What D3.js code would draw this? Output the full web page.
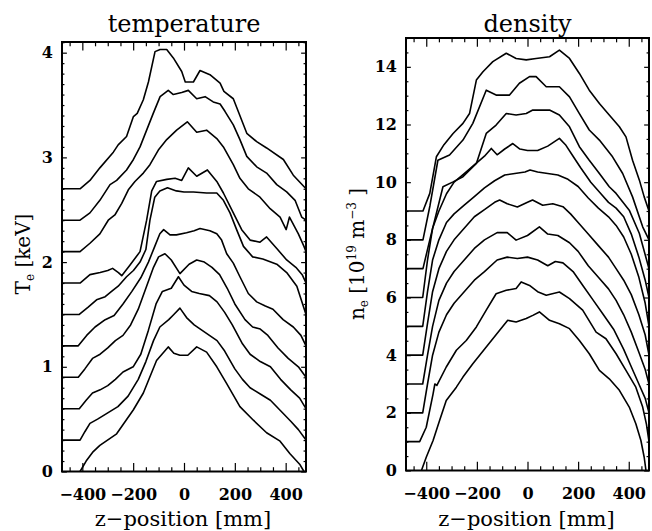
<!DOCTYPE html>
<html>
<head>
<meta charset="utf-8">
<script src="https://cdn.jsdelivr.net/npm/d3@7"></script>
<style>
  body { margin: 0; background: #fff; }
  svg text { font-family: "DejaVu Serif", serif; fill: #000; }
</style>
</head>
<body>
<div id="chart"></div>
<script>
// ---- data ----
const zTicks = [-400, -200, 0, 200, 400];
const tempTicks = [0, 1, 2, 3, 4];
const densTicks = [0, 2, 4, 6, 8, 10, 12, 14];

// temperature profiles [z mm, Te keV], each shifted by 0.3 keV
const temp1 = [[-478,2.7],[-409,2.7],[-370,2.78],[-331,2.9],[-278,3.05],[-259,3.12],[-226,3.2],[-199,3.39],[-184,3.42],[-160,3.55],[-140,3.72],[-114,4.01],[-94,4.03],[-68,4.03],[-42,3.95],[-9,3.82],[5,3.72],[37,3.72],[63,3.83],[102,3.79],[142,3.71],[157,3.63],[194,3.56],[247,3.23],[286,3.15],[325,3.09],[391,2.98],[430,2.83],[480,2.7]];
const temp2 = [[-478,2.4],[-409,2.4],[-370,2.47],[-331,2.59],[-291,2.74],[-265,2.78],[-226,2.88],[-199,2.98],[-173,3.1],[-147,3.26],[-121,3.42],[-94,3.58],[-62,3.64],[-42,3.6],[-9,3.62],[17,3.64],[50,3.56],[83,3.58],[115,3.53],[142,3.51],[161,3.44],[194,3.31],[220,3.17],[247,3.01],[286,2.91],[325,2.85],[365,2.74],[404,2.67],[437,2.59],[463,2.43],[480,2.4]];
const temp3 = [[-478,2.1],[-409,2.1],[-370,2.18],[-331,2.27],[-298,2.4],[-272,2.45],[-245,2.56],[-219,2.69],[-193,2.77],[-160,2.85],[-134,2.93],[-101,3.07],[-68,3.17],[-29,3.26],[13,3.34],[50,3.24],[89,3.26],[129,3.18],[155,3.1],[194,2.93],[220,2.8],[253,2.7],[299,2.62],[339,2.51],[378,2.43],[402,2.31],[415,2.43],[450,2.27],[472,2.15],[480,2.1]];
const temp4 = [[-478,1.8],[-409,1.8],[-370,1.88],[-330,1.9],[-300,1.92],[-281,1.94],[-258,1.9],[-245,1.87],[-213,1.97],[-173,2.1],[-147,2.4],[-127,2.68],[-108,2.77],[-68,2.79],[-35,2.8],[-9,2.78],[17,2.9],[50,2.82],[92,2.88],[129,2.77],[155,2.66],[194,2.47],[227,2.31],[260,2.21],[299,2.19],[325,2.24],[365,2.13],[404,2.02],[440,1.95],[465,1.88],[480,1.8]];
const temp5 = [[-478,1.5],[-412,1.5],[-377,1.57],[-344,1.64],[-310,1.67],[-285,1.72],[-259,1.77],[-226,1.86],[-199,1.92],[-173,2.0],[-150,2.12],[-134,2.4],[-115,2.62],[-95,2.68],[-65,2.71],[-30,2.68],[0,2.67],[37,2.67],[89,2.66],[129,2.66],[155,2.59],[181,2.47],[207,2.31],[234,2.15],[270,2.05],[310,2.03],[365,1.98],[404,1.9],[444,1.77],[480,1.5]];
const temp6 = [[-478,1.2],[-416,1.2],[-383,1.3],[-350,1.38],[-310,1.45],[-275,1.49],[-240,1.6],[-205,1.72],[-170,1.85],[-140,2.0],[-115,2.15],[-95,2.27],[-80,2.31],[-55,2.26],[-30,2.26],[10,2.28],[40,2.3],[63,2.32],[102,2.3],[129,2.27],[148,2.21],[168,2.08],[194,1.99],[220,1.86],[253,1.7],[286,1.62],[320,1.58],[350,1.55],[390,1.45],[430,1.38],[460,1.3],[480,1.2]];
const temp7 = [[-478,0.9],[-416,0.9],[-390,0.98],[-360,1.08],[-330,1.12],[-300,1.18],[-270,1.25],[-240,1.3],[-210,1.4],[-180,1.55],[-150,1.75],[-120,1.95],[-100,2.05],[-75,2.08],[-50,2.02],[-16,1.89],[20,1.98],[50,2.02],[80,2.0],[110,1.95],[140,1.88],[170,1.75],[200,1.6],[240,1.45],[270,1.38],[300,1.36],[330,1.3],[370,1.18],[410,1.08],[450,1.0],[480,0.9]];
const temp8 = [[-478,0.6],[-412,0.6],[-385,0.68],[-360,0.75],[-330,0.78],[-300,0.82],[-270,0.88],[-240,0.95],[-200,1.0],[-170,1.12],[-140,1.35],[-110,1.6],[-85,1.72],[-50,1.75],[-22,1.86],[0,1.78],[30,1.72],[60,1.7],[100,1.68],[130,1.62],[160,1.52],[190,1.4],[230,1.22],[260,1.12],[300,1.05],[340,1.0],[380,0.88],[420,0.78],[455,0.7],[480,0.6]];
const temp9 = [[-478,0.3],[-409,0.3],[-390,0.38],[-370,0.46],[-340,0.5],[-300,0.56],[-260,0.62],[-220,0.72],[-180,0.88],[-150,1.05],[-120,1.25],[-95,1.38],[-60,1.45],[-40,1.5],[-16,1.56],[10,1.47],[40,1.4],[70,1.35],[100,1.3],[130,1.25],[160,1.15],[200,0.98],[230,0.88],[260,0.8],[300,0.74],[340,0.68],[380,0.58],[420,0.48],[450,0.4],[480,0.3]];
const temp10 = [[-409,0.0],[-385,0.1],[-357,0.19],[-331,0.25],[-265,0.36],[-199,0.59],[-160,0.75],[-108,1.06],[-62,1.19],[-40,1.13],[-16,1.11],[15,1.11],[50,1.19],[89,1.14],[129,1.0],[168,0.84],[220,0.62],[273,0.49],[325,0.37],[378,0.29],[417,0.17],[455,0.07],[472,0.0]];

// density profiles [z mm, ne 1e19 m^-3], each shifted by 1
const dens1 = [[-480,9],[-413,9],[-386,9.61],[-360,10.88],[-330,11.3],[-294,11.69],[-255,12.04],[-229,12.38],[-202,13.54],[-176,13.83],[-137,14.18],[-84,14.47],[-45,14.29],[-5,14.24],[34,14.29],[87,14.35],[126,14.58],[166,14.29],[205,13.77],[244,13.19],[284,12.73],[323,12.33],[363,11.92],[389,11.57],[415,10.76],[442,10.07],[461,9.49],[480,9.0]];
const dens2 = [[-480,8],[-413,8],[-385,9.2],[-354,10.76],[-308,10.94],[-255,11.46],[-216,12.04],[-163,13.19],[-124,13.02],[-71,13.02],[-32,13.43],[8,13.66],[34,13.66],[74,13.31],[126,13.31],[166,12.96],[205,12.38],[244,11.81],[284,11.46],[336,10.88],[376,10.3],[415,9.49],[455,8.45],[480,8.0]];
const dens3 = [[-480,7],[-413,7],[-386,8.0],[-334,9.84],[-294,10.01],[-255,10.19],[-202,10.65],[-163,11.69],[-124,11.98],[-84,12.38],[-45,12.33],[-5,12.38],[21,12.5],[87,12.5],[126,12.33],[166,11.92],[205,11.23],[244,10.76],[284,10.3],[323,9.84],[350,9.61],[402,9.03],[442,8.22],[480,7.0]];
const dens4 = [[-480,6],[-414,6],[-395,7.3],[-375,8.4],[-350,9.0],[-320,9.6],[-290,10.0],[-250,10.3],[-210,10.6],[-170,10.9],[-143,11.17],[-120,10.95],[-90,11.15],[-58,11.34],[-30,11.15],[0,11.1],[40,11.1],[80,11.25],[126,11.52],[150,11.3],[180,10.9],[210,10.5],[250,10.0],[290,9.6],[320,9.3],[350,9.1],[380,8.8],[410,8.2],[440,7.4],[465,6.6],[480,6.0]];
const dens5 = [[-480,5],[-414,5],[-395,6.2],[-375,7.3],[-350,8.0],[-320,8.6],[-290,8.9],[-250,9.2],[-210,9.5],[-170,9.8],[-130,10.05],[-90,10.25],[-50,10.3],[-10,10.35],[10,10.42],[40,10.35],[80,10.3],[120,10.25],[160,10.1],[200,9.85],[240,9.45],[280,9.1],[320,8.8],[350,8.5],[380,8.1],[410,7.5],[440,6.7],[465,5.8],[480,5.0]];
const dens6 = [[-480,4],[-414,4],[-395,5.1],[-375,6.2],[-350,7.0],[-320,7.6],[-290,8.0],[-250,8.4],[-210,8.8],[-170,9.05],[-130,9.3],[-110,9.38],[-80,9.25],[-40,9.14],[0,9.3],[20,9.38],[60,9.2],[100,9.25],[140,9.15],[170,8.9],[200,8.6],[240,8.2],[280,7.8],[320,7.4],[350,7.0],[380,6.6],[410,6.1],[440,5.4],[465,4.7],[480,4.0]];
const dens7 = [[-480,3],[-414,3],[-395,4.0],[-375,5.0],[-350,5.9],[-320,6.5],[-290,6.9],[-250,7.3],[-210,7.7],[-170,8.0],[-120,8.25],[-80,8.25],[-45,7.99],[0,8.15],[47,8.45],[80,8.2],[120,8.15],[166,7.9],[200,7.6],[240,7.1],[280,6.7],[320,6.3],[350,5.9],[380,5.4],[410,4.8],[440,4.1],[465,3.5],[480,3.0]];
const dens8 = [[-480,2],[-414,2],[-395,3.0],[-375,4.0],[-350,4.8],[-320,5.4],[-290,5.8],[-250,6.2],[-210,6.6],[-170,6.9],[-120,7.3],[-80,7.4],[-40,7.35],[0,7.4],[40,7.3],[80,7.1],[110,7.25],[140,7.2],[180,6.9],[220,6.4],[260,5.9],[300,5.4],[340,4.9],[380,4.2],[410,3.6],[440,3.0],[465,2.5],[480,2.0]];
const dens9 = [[-480,1],[-426,1],[-400,1.5],[-373,2.66],[-366,3.0],[-358,2.95],[-321,3.59],[-281,4.17],[-242,4.51],[-202,4.98],[-163,5.56],[-124,6.13],[-84,6.25],[-45,6.31],[-25,6.54],[8,6.42],[40,6.2],[74,6.08],[126,6.19],[166,5.96],[218,5.56],[271,4.8],[310,4.57],[350,4.05],[389,3.47],[428,2.89],[455,2.2],[470,1.6],[480,1.0]];
const dens10 = [[-419,0],[-400,0.46],[-373,1.04],[-347,1.74],[-321,2.43],[-281,2.89],[-255,3.24],[-216,3.7],[-163,4.28],[-110,4.86],[-78,5.21],[-45,5.15],[-5,5.27],[21,5.38],[47,5.5],[87,5.21],[126,5.09],[166,4.92],[205,4.51],[244,4.05],[284,3.47],[323,3.18],[363,2.78],[402,2.2],[428,1.62],[448,1.04],[461,0.46],[468,0]];

const tempCurves = [temp1, temp2, temp3, temp4, temp5, temp6, temp7, temp8, temp9, temp10];
const densCurves = [dens1, dens2, dens3, dens4, dens5, dens6, dens7, dens8, dens9, dens10];

// ---- layout ----
const width = 652, height = 531;
const panels = [
  {title: 'temperature', left: 62, right: 306, top: 42, bottom: 471.5,
   yDomain: [0, 4.102], yTicks: tempTicks, yMinorStep: 0.1, curves: tempCurves},
  {title: 'density', left: 406, right: 649, top: 38, bottom: 470.5,
   yDomain: [0, 15], yTicks: densTicks, yMinorStep: 0.5, curves: densCurves}
];

const svg = d3.select('#chart').append('svg')
  .attr('width', width)
  .attr('height', height);

panels.forEach(p => {
  const w = p.right - p.left, h = p.bottom - p.top;
  const x = d3.scaleLinear().domain([-480, 480]).range([0, w]);
  const y = d3.scaleLinear().domain(p.yDomain).range([h, 0]);

  const g = svg.append('g').attr('transform', `translate(${p.left},${p.top})`);

  const xMinor = d3.range(-450, 451, 50).filter(v => v % 200 !== 0);
  const yMinor = d3.range(p.yDomain[0], p.yDomain[1] + 1e-9, p.yMinorStep)
    .map(v => +v.toFixed(3))
    .filter(v => !p.yTicks.includes(v));

  const xLen = 0.02 * h, yLen = 0.02 * w;

  // bottom / top ticks
  g.append('g').attr('class', 'axis')
    .attr('transform', `translate(0,${h})`)
    .call(d3.axisBottom(x).tickValues(zTicks).tickSize(-xLen).tickPadding(17).tickFormat(d3.format('d')));
  g.append('g').attr('transform', `translate(0,${h})`)
    .call(d3.axisBottom(x).tickValues(xMinor).tickSize(-xLen / 2).tickFormat(''));
  g.append('g')
    .call(d3.axisTop(x).tickValues(zTicks).tickSize(-xLen).tickFormat(''));
  g.append('g')
    .call(d3.axisTop(x).tickValues(xMinor).tickSize(-xLen / 2).tickFormat(''));

  // left / right ticks
  g.append('g').attr('class', 'axis')
    .call(d3.axisLeft(y).tickValues(p.yTicks).tickSize(-yLen).tickPadding(9).tickFormat(d3.format('d')));
  g.append('g')
    .call(d3.axisLeft(y).tickValues(yMinor).tickSize(-yLen / 2).tickFormat(''));
  g.append('g').attr('transform', `translate(${w},0)`)
    .call(d3.axisRight(y).tickValues(p.yTicks).tickSize(-yLen).tickFormat(''));
  g.append('g').attr('transform', `translate(${w},0)`)
    .call(d3.axisRight(y).tickValues(yMinor).tickSize(-yLen / 2).tickFormat(''));

  g.selectAll('.domain').remove();
  g.selectAll('.tick line').attr('stroke', '#000').attr('stroke-width', 1.2);
  g.selectAll('.axis text')
    .attr('font-family', '"DejaVu Serif", serif')
    .attr('font-size', 16)
    .attr('font-weight', 'bold')
    .attr('fill', '#000');

  // frame
  g.append('rect')
    .attr('width', w).attr('height', h)
    .attr('fill', 'none').attr('stroke', '#000').attr('stroke-width', 2);

  // curves
  const line = d3.line().x(d => x(d[0])).y(d => y(d[1]));
  g.append('g')
    .selectAll('path')
    .data(p.curves)
    .join('path')
    .attr('d', line)
    .attr('fill', 'none')
    .attr('stroke', '#000')
    .attr('stroke-width', 1.6)
    .attr('stroke-linejoin', 'round');

  // titles
  svg.append('text')
    .attr('x', p.left + w / 2).attr('y', 32)
    .attr('text-anchor', 'middle')
    .attr('font-size', 24)
    .text(p.title);
  svg.append('text')
    .attr('x', p.left + w / 2 - 1).attr('y', 526)
    .attr('text-anchor', 'middle')
    .attr('font-size', 21)
    .text('z\u2212position [mm]');
});

// y labels
const tl = svg.append('text')
  .attr('transform', 'translate(30,254) rotate(-90)')
  .attr('text-anchor', 'middle')
  .attr('font-size', 20);
tl.append('tspan').text('T');
tl.append('tspan').attr('font-size', 12).attr('dy', 4).text('e');
tl.append('tspan').attr('dy', -4).text(' [keV]');

const dl = svg.append('text')
  .attr('transform', 'translate(364,254) rotate(-90)')
  .attr('text-anchor', 'middle')
  .attr('font-size', 20);
dl.append('tspan').text('n');
dl.append('tspan').attr('font-size', 12).attr('dy', 4).text('e');
dl.append('tspan').attr('dy', -4).text(' [10');
dl.append('tspan').attr('font-size', 12).attr('dy', -8).text('19');
dl.append('tspan').attr('dy', 8).text(' m');
dl.append('tspan').attr('font-size', 12).attr('dy', -8).text('\u22123');
dl.append('tspan').attr('dy', 8).text(' ]');
</script>
</body>
</html>
